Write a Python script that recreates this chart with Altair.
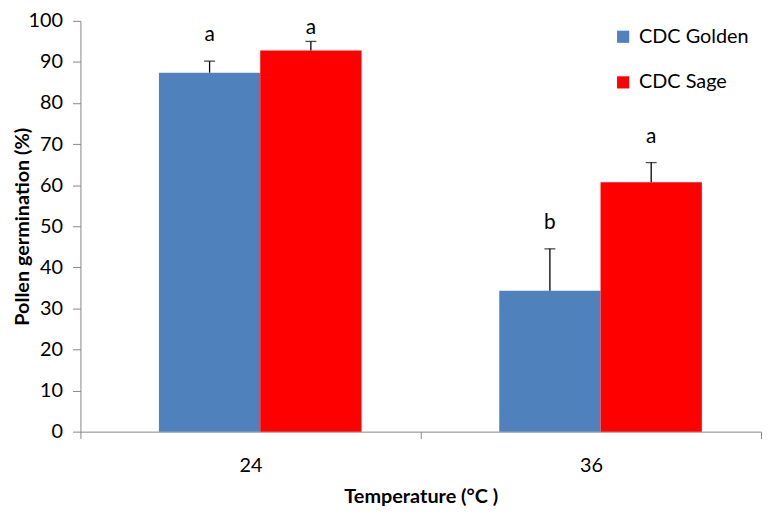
import altair as alt
import pandas as pd

temps = ["24", "36"]
cultivars = ["CDC Golden", "CDC Sage"]
golden = [87.4, 34.3]
golden_err = [2.8, 10.2]
sage = [92.8, 60.7]
sage_err = [2.2, 4.8]
golden_letters = ["a", "b"]
sage_letters = ["a", "a"]
colors = ["#4F81BD", "#FF0000"]

rows = []
for i, t in enumerate(temps):
    rows.append({"temp": t, "cultivar": cultivars[0], "value": golden[i],
                 "err": golden_err[i], "letter": golden_letters[i]})
    rows.append({"temp": t, "cultivar": cultivars[1], "value": sage[i],
                 "err": sage_err[i], "letter": sage_letters[i]})
df = pd.DataFrame(rows)
df["top"] = df["value"] + df["err"]

FONT = "Lato"

x_enc = alt.X("temp:N", sort=temps,
              scale=alt.Scale(paddingInner=0, paddingOuter=0),
              axis=alt.Axis(title="Temperature (°C )", labelAngle=0,
                            tickBand="extent", tickSize=7, labelPadding=17,
                            titlePadding=11))
xo = alt.XOffset("cultivar:N", sort=cultivars,
                 scale=alt.Scale(paddingInner=0, paddingOuter=0.68, align=0.57))

base = alt.Chart(df).encode(x=x_enc, xOffset=xo)

bars = base.mark_bar().encode(
    y=alt.Y("value:Q", scale=alt.Scale(domain=[0, 100]),
            axis=alt.Axis(title="Pollen germination (%)", values=list(range(0, 101, 10)),
                          tickSize=8, labelPadding=10,
                          titleX=-58, titleBaseline="middle")),
    color=alt.Color("cultivar:N", sort=cultivars,
                    scale=alt.Scale(domain=cultivars, range=colors),
                    legend=alt.Legend(title=None, orient="none", legendX=537, legendY=6,
                                      symbolType="square", symbolSize=150,
                                      symbolStrokeWidth=0, rowPadding=26,
                                      labelFontSize=20, labelFont=FONT,
                                      labelColor="#000", labelOffset=6)),
)

err_rule = base.mark_rule(color="#000", strokeWidth=1.3).encode(
    y="value:Q", y2="top:Q")
err_cap = base.mark_tick(color="#000", thickness=1.3, size=11).encode(y="top:Q")
letters = base.transform_calculate(
    ly="min(datum.top + 6.3, 98.3)"
).mark_text(font=FONT, fontSize=21, color="#000", baseline="middle").encode(
    y="ly:Q", text="letter:N")

chart = alt.layer(bars, err_rule, err_cap, letters).properties(
    width=686, height=414,
    autosize=alt.AutoSizeParams(type="none"),
    padding={"left": 73, "top": 11, "right": 8, "bottom": 76},
).configure_view(stroke=None).configure_axis(
    grid=False, domainColor="#868686", tickColor="#868686",
    labelFont=FONT, labelFontSize=20, labelColor="#000",
    titleFont=FONT, titleFontSize=20, titleFontWeight="bold", titleColor="#000",
)

chart.save("out.html", embed_options={"renderer": "svg", "actions": False})
